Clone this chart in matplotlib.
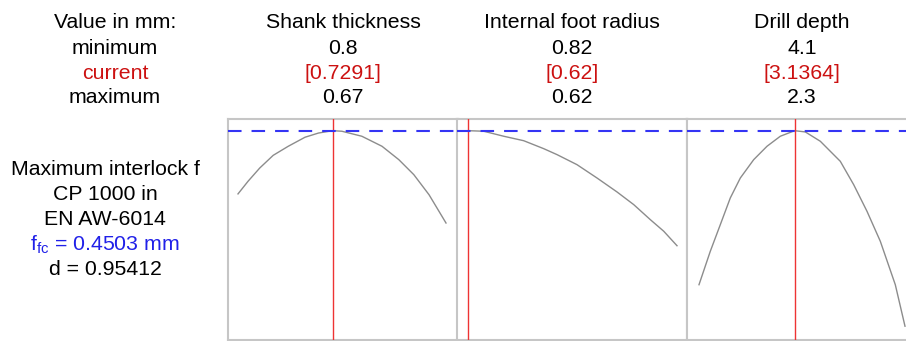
import matplotlib.pyplot as plt

plt.rcParams['font.family'] = ['Liberation Sans', 'DejaVu Sans']
plt.rcParams['mathtext.fontset'] = 'custom'
plt.rcParams['mathtext.rm'] = 'Liberation Sans'

# factor names and settings (labels as printed on the chart)
factors = ["Shank thickness", "Internal foot radius", "Drill depth"]
row_minimum = ["0.8", "0.82", "4.1"]
row_current = ["[0.7291]", "[0.62]", "[3.1364]"]
row_maximum = ["0.67", "0.62", "2.3"]
low = [0.67, 0.62, 2.3]
high = [0.80, 0.82, 4.1]
current = [0.7291, 0.62, 3.1364]

# response f (mm) traced along each factor
shank_x = [0.67, 0.6763, 0.6836, 0.6920, 0.7014, 0.7119, 0.7203, 0.7291,
           0.7349, 0.7474, 0.7600, 0.7705, 0.7799, 0.7894, 0.80]
shank_f = [0.4049, 0.4140, 0.4235, 0.4326, 0.4391, 0.4456, 0.4486, 0.4503,
           0.4499, 0.4463, 0.4391, 0.4295, 0.4187, 0.4043, 0.3840]
radius_x = [0.62, 0.6350, 0.6542, 0.6733, 0.6924, 0.7052, 0.7243, 0.7435,
            0.7626, 0.7786, 0.7945, 0.8073, 0.82]
radius_f = [0.4503, 0.4499, 0.4463, 0.4431, 0.4374, 0.4331, 0.4259, 0.4163,
            0.4063, 0.3972, 0.3864, 0.3781, 0.3677]
depth_x = [2.30, 2.3987, 2.4861, 2.5735, 2.6609, 2.7780, 2.8942, 3.0104, 3.1364,
           3.2289, 3.3600, 3.5347, 3.6518, 3.7680, 3.8842, 4.0153, 4.1]
depth_f = [0.3397, 0.3637, 0.3828, 0.4020, 0.4163, 0.4295, 0.4391, 0.4463, 0.4503,
           0.4494, 0.4427, 0.4283, 0.4115, 0.3924, 0.3709, 0.3397, 0.3099]

f_opt = 0.4503
d_value = 0.95412

curves = [(shank_x, shank_f), (radius_x, radius_f), (depth_x, depth_f)]

RED = '#cc1111'
BLUE = '#2020e8'
FRAME = '#c6c6c6'
FS = 15.3

fig = plt.figure(figsize=(9.06, 3.41), dpi=100)
W, H = 906, 341

panel_left = [228, 457, 687]
panel_w = 230
top, bottom = 118.7, 340
pad_px = [(10, 12), (11, 10), (12, 12)]

for i, (xs, fs) in enumerate(curves):
    x0 = panel_left[i]
    ax = fig.add_axes([x0 / W, 1 - bottom / H, panel_w / W, (bottom - top) / H])
    span = high[i] - low[i]
    inner = panel_w - pad_px[i][0] - pad_px[i][1]
    per_px = span / inner
    ax.set_xlim(low[i] - pad_px[i][0] * per_px, high[i] + pad_px[i][1] * per_px)
    ax.set_ylim(0.30, 0.4589)
    ax.plot(xs, fs, color='#8c8c8c', lw=1.0, zorder=2)
    ax.axvline(current[i], color='#ee3333', lw=1.0, zorder=3)
    ax.axhline(f_opt, color='#3434f4', lw=1.5, dashes=(6.5, 4.8), zorder=4)
    ax.set_xticks([])
    ax.set_yticks([])
    for s in ax.spines.values():
        s.set_color(FRAME)
        s.set_linewidth(1.5)
    cx = (x0 + panel_w / 2) / W
    fig.text(cx, 1 - 28 / H, factors[i], ha='center', va='baseline', fontsize=FS)
    fig.text(cx, 1 - 54 / H, row_minimum[i], ha='center', va='baseline', fontsize=FS)
    fig.text(cx, 1 - 79 / H, row_current[i], ha='center', va='baseline', fontsize=FS, color=RED)
    fig.text(cx, 1 - 103 / H, row_maximum[i], ha='center', va='baseline', fontsize=FS)

lx = 115 / W
fig.text(lx, 1 - 28 / H, "Value in mm:", ha='center', va='baseline', fontsize=FS)
fig.text(lx, 1 - 54 / H, "minimum", ha='center', va='baseline', fontsize=FS)
fig.text(lx, 1 - 79 / H, "current", ha='center', va='baseline', fontsize=FS, color=RED)
fig.text(lx, 1 - 103 / H, "maximum", ha='center', va='baseline', fontsize=FS)

bx = 105 / W
fig.text(bx, 1 - 175 / H, "Maximum interlock f", ha='center', va='baseline', fontsize=FS)
fig.text(bx, 1 - 200 / H, "CP 1000 in", ha='center', va='baseline', fontsize=FS)
fig.text(bx, 1 - 225 / H, "EN AW-6014", ha='center', va='baseline', fontsize=FS)
fig.text(bx, 1 - 250 / H, r"f$_{\mathrm{fc}}$ = %.4f mm" % f_opt, ha='center', va='baseline',
         fontsize=FS, color=BLUE)
fig.text(bx, 1 - 275 / H, "d = %.5f" % d_value, ha='center', va='baseline', fontsize=FS)

fig.savefig('out.png', dpi=100)
